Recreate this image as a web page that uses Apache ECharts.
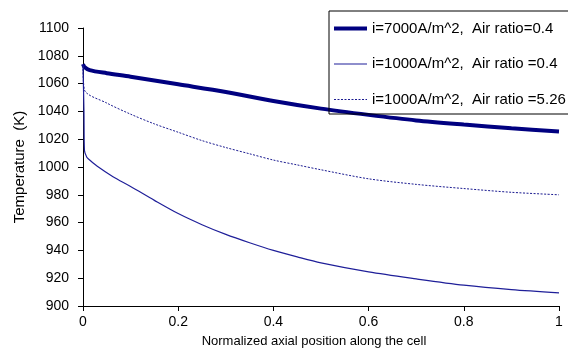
<!DOCTYPE html>
<html>
<head>
<meta charset="utf-8">
<script src="https://cdn.jsdelivr.net/npm/echarts@6/dist/echarts.min.js"></script>
<style>html,body{margin:0;padding:0;background:#fff}#c{width:568px;height:354px}</style>
</head>
<body>
<div id="c"></div>
<script>
// Series names
const seriesNames = [
  'i=7000A/m^2,  Air ratio=0.4',
  'i=1000A/m^2,  Air ratio =0.4',
  'i=1000A/m^2,  Air ratio =5.26'
];
// Series 1: i=7000, air ratio 0.4  (x, T)
const xs1 = [0, 0.003, 0.014, 0.05, 0.1, 0.2, 0.3, 0.4, 0.5, 0.6, 0.7, 0.8, 0.9, 1.0];
const ys1 = [1074, 1072, 1069.7, 1067.5, 1065, 1059.5, 1054, 1047.5, 1042, 1037.5, 1033.5, 1030.5, 1027.8, 1025.5];
// Series 2: i=1000, air ratio 0.4
const xs2 = [0, 0.002, 0.003, 0.008, 0.014, 0.03, 0.063, 0.1, 0.15, 0.2, 0.25, 0.3, 0.35, 0.4, 0.45, 0.5, 0.6, 0.7, 0.8, 0.9, 1.0];
const ys2 = [1073, 1040, 1012, 1007, 1005, 1000.5, 993, 986, 976, 966.5, 958.5, 951.5, 945.5, 940, 935.3, 931, 924.5, 919.5, 915, 911.8, 909.5];
// Series 3: i=1000, air ratio 5.26
const xs3 = [0, 0.003, 0.05, 0.1, 0.15, 0.2, 0.25, 0.3, 0.35, 0.4, 0.45, 0.5, 0.6, 0.7, 0.8, 0.9, 1.0];
const ys3 = [1073, 1055.5, 1046, 1038, 1031, 1025, 1019, 1014, 1009.5, 1005, 1001.5, 998, 991.5, 987.5, 984.5, 981.8, 980];
// Axis settings
const xTicks = [0, 0.2, 0.4, 0.6, 0.8, 1];
const yMin = 900, yMax = 1100, yStep = 20;
const xTitle = 'Normalized axial position along the cell';
const yTitle = 'Temperature  (K)';

const pair = (xs, ys) => xs.map((x, i) => [x, ys[i]]);
const font = '"Liberation Sans", Arial, sans-serif';
const colors = ['#000080', '#1f1f99', '#1a1a90'];
const widths = [4, 1.2, 1];

const chart = echarts.init(document.getElementById('c'), null, {renderer: 'canvas'});
chart.setOption({
  animation: false,
  backgroundColor: '#fff',
  grid: {left: 83, right: 9, top: 28, bottom: 48},
  legend: {
    orient: 'vertical',
    left: 329, top: 11,
    padding: [10, 40, 7, 3],
    itemGap: 20.5,
    itemWidth: 33, itemHeight: 14,
    borderColor: '#000', borderWidth: 1,
    itemStyle: {opacity: 0},
    textStyle: {fontFamily: font, fontSize: 15, color: '#000'},
    data: seriesNames.map((n, i) => ({
      name: n,
      lineStyle: {width: widths[i], color: colors[i], type: i === 2 ? [2, 1.5] : 'solid'}
    }))
  },
  xAxis: {
    type: 'value', min: 0, max: 1, interval: 0.2,
    name: xTitle, nameLocation: 'middle', nameGap: 29,
    nameTextStyle: {fontFamily: font, fontSize: 13, color: '#000', padding: [0, 14, 0, 0]},
    axisLine: {lineStyle: {color: '#000', width: 1}},
    axisTick: {show: true, inside: false, length: 5, lineStyle: {color: '#000'}},
    axisLabel: {fontFamily: font, fontSize: 14, color: '#000', margin: 9,
      formatter: v => String(xTicks.find(t => Math.abs(t - v) < 1e-9) ?? v)},
    splitLine: {show: false}
  },
  yAxis: {
    type: 'value', min: yMin, max: yMax, interval: yStep,
    name: yTitle, nameLocation: 'middle', nameGap: 48, nameRotate: 90,
    nameTextStyle: {fontFamily: font, fontSize: 15, color: '#000'},
    axisLine: {show: true, lineStyle: {color: '#000', width: 1}},
    axisTick: {show: true, inside: false, length: 5, lineStyle: {color: '#000'}},
    axisLabel: {fontFamily: font, fontSize: 14, color: '#000', margin: 14,
      formatter: v => String(Math.round(v))},
    splitLine: {show: false}
  },
  series: [
    {name: seriesNames[0], type: 'line', data: pair(xs1, ys1), showSymbol: false, symbol: 'none',
      smooth: 0.3, lineStyle: {color: colors[0], width: widths[0]}, itemStyle: {color: colors[0]}},
    {name: seriesNames[1], type: 'line', data: pair(xs2, ys2), showSymbol: false, symbol: 'none',
      smooth: 0.3, lineStyle: {color: colors[1], width: widths[1]}, itemStyle: {color: colors[1]}},
    {name: seriesNames[2], type: 'line', data: pair(xs3, ys3), showSymbol: false, symbol: 'none',
      smooth: 0.3, lineStyle: {color: colors[2], width: widths[2], type: [2, 1.5]}, itemStyle: {color: colors[2]}}
  ]
});
</script>
</body>
</html>
